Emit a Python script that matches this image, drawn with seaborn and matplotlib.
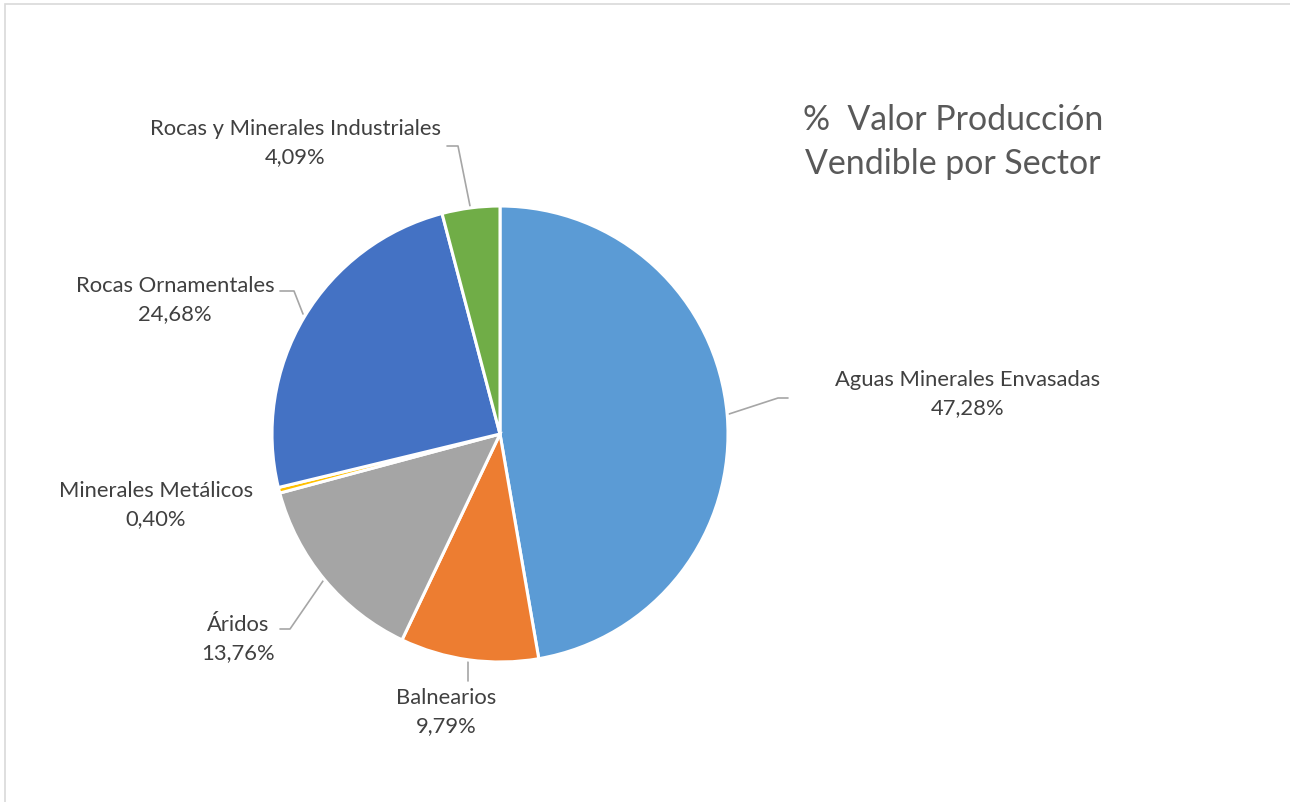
import matplotlib
matplotlib.use("Agg")
import matplotlib.pyplot as plt
import seaborn as sns
from matplotlib.patches import Rectangle

# Data
sectors = ["Aguas Minerales Envasadas", "Balnearios", "Áridos",
           "Minerales Metálicos", "Rocas Ornamentales",
           "Rocas y Minerales Industriales"]
shares = [47.28, 9.79, 13.76, 0.40, 24.68, 4.09]
colors = ["#5B9BD5", "#ED7D31", "#A5A5A5", "#FFC000", "#4472C4", "#70AD47"]

sns.set_theme(style="white")
plt.rcParams["font.family"] = ["Lato", "DejaVu Sans"]

W, H = 1290, 803
fig = plt.figure(figsize=(W / 100, H / 100), dpi=100)
ax = fig.add_axes([0, 0, 1, 1])
ax.set_xlim(0, W)
ax.set_ylim(H, 0)
ax.axis("off")

# pie on its own axes with normal y orientation
pax = fig.add_axes([0, 0, 1, 1])
pax.pie(shares, colors=colors, startangle=90, counterclock=False,
        center=(500, H - 435), radius=228, frame=True,
        wedgeprops=dict(edgecolor="white", linewidth=2.2))
pax.set_xlim(0, W)
pax.set_ylim(0, H)
pax.axis("off")

# chart border (only top/left visible in the crop)
fig.patches.append(Rectangle((5 / W, -0.1), 1.2, (H - 5) / H + 0.1,
                             transform=fig.transFigure, fill=False,
                             edgecolor="#D9D9D9", linewidth=1.2))

# labels
label_pos = [(968, 394), (446, 712), (238, 639), (156, 505), (175, 300), (295, 143)]
for name, v, (x, y) in zip(sectors, shares, label_pos):
    ax.text(x, y, f"{name}\n{v:.2f}".replace(".", ",") + "%", ha="center",
            va="center", fontsize=15.8, color="#404040", linespacing=1.45)

# leader lines
leaders = [
    [(729, 415), (778, 399), (788, 399)],
    [(468, 663), (468, 682)],
    [(323, 582), (290, 630), (280, 630)],
    [(303, 315), (294, 292), (280, 292)],
    [(470, 207), (458, 147), (447, 147)],
]
for pts in leaders:
    xs, ys = zip(*pts)
    ax.plot(xs, ys, color="#A6A6A6", linewidth=1.2)

ax.text(953, 142, "%  Valor Producción\nVendible por Sector", ha="center",
        va="center", fontsize=24.4, color="#595959", linespacing=1.5)

fig.savefig("out.png", dpi=100)
